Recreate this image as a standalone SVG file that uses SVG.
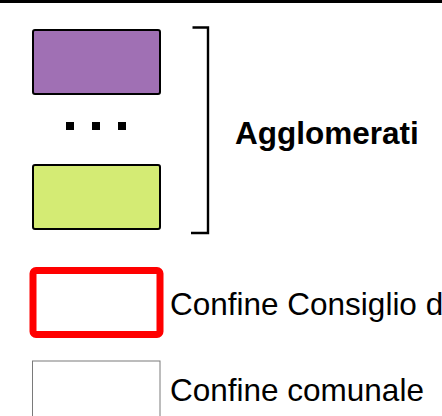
<svg xmlns="http://www.w3.org/2000/svg" width="442" height="416" viewBox="0 0 442 416">
<style>
.sw{stroke:#000;stroke-width:2}
.lbl{font-family:"Liberation Sans",Arial,sans-serif;font-size:31.5px;fill:#000}
.b{font-weight:bold}
.br{fill:none;stroke:#000;stroke-width:2.4}
</style>
<rect x="0" y="0" width="442" height="416" fill="#fff"/>
<rect x="0" y="0" width="442" height="3" fill="#000"/>
<g id="purple"><rect class="sw" x="33" y="30" width="127" height="64" rx="2" fill="#a070b4"/></g>
<g id="dots">
<rect x="66" y="122" width="8" height="8" fill="#000"/>
<rect x="92" y="122" width="8" height="8" fill="#000"/>
<rect x="118" y="122" width="8" height="8" fill="#000"/>
</g>
<g id="green"><rect class="sw" x="33" y="165" width="127" height="64" rx="2" fill="#d4eb74"/></g>
<g id="connectors"><path class="br" d="M192.5 27.5 H208 V233 H191"/></g>
<g id="agglomerati"><text class="lbl b" x="235" y="144">Agglomerati</text></g>
<g id="red"><rect x="33" y="270.5" width="127" height="64" rx="3" fill="#fff" stroke="#ff0000" stroke-width="7"/>
<text class="lbl" x="170" y="315">Confine Consiglio di</text></g>
<g id="grey"><rect x="32.5" y="361" width="127.5" height="70" fill="#fff" stroke="#7a7a7a" stroke-width="1"/>
<text class="lbl" x="170" y="401">Confine comunale</text></g>
</svg>
